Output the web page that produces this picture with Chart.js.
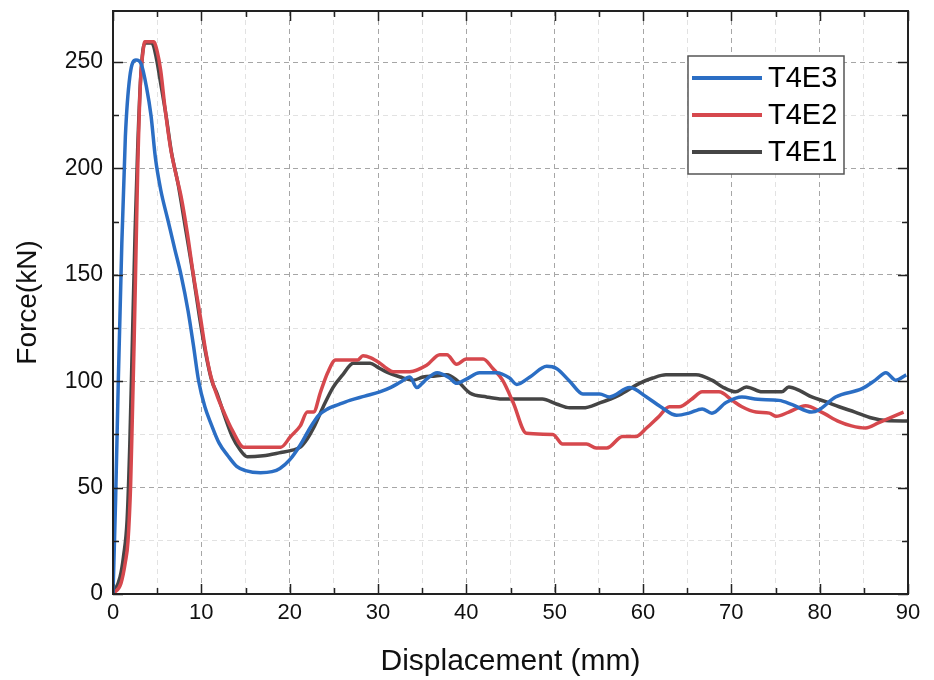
<!DOCTYPE html>
<html lang="en">
<head>
    <meta charset="UTF-8">
    <title>Force - Displacement</title>
    <script src="https://cdn.jsdelivr.net/npm/chart.js"></script>
    <style>
        html, body { margin: 0; padding: 0; background: #fff; }
        #wrap { width: 934px; height: 680px; }
    </style>
</head>
<body>
<div id="wrap"><canvas id="forceChart" width="934" height="680"></canvas></div>

<script>
// series names and colours (legend order)
const seriesNames = ['T4E3', 'T4E2', 'T4E1'];
const seriesColors = ['#2b6ec4', '#d6484d', '#454545'];

// T4E3 (blue) - displacement mm / force kN
const e3X = [0, 0.3, 0.6, 1.0, 1.4, 1.9, 2.6, 3.2, 3.8, 4.3, 4.8, 5.4, 6.2, 7.0, 7.7, 8.5, 9.1, 9.7, 10.4, 11.1,
    12.0, 13.0, 14.0, 15.0, 16.7, 18.0, 18.9, 20.0, 21.2, 22.3, 23.3, 24.3, 25.5, 26.8, 28.5, 30.2, 31.4, 32.5, 33.6, 34.4,
    35.0, 35.5, 36.7, 38.1, 38.9, 40.0, 41.5, 43.4, 44.9, 45.7, 47.2, 49.1, 50.2, 51.7, 53.2, 55.1, 56.2, 58.5, 60.4, 62.0,
    63.8, 65.2, 66.7, 67.8, 69.4, 71.2, 73.0, 75.4, 76.9, 79.1, 79.9, 81.8, 84.8, 86.3, 87.5, 88.6, 89.8];
const e3Y = [0, 45, 100, 165, 215, 243, 251, 249, 238, 225, 205, 190, 176, 162, 150, 133, 117, 100, 88, 80,
    71, 65, 60, 58, 57, 57.5, 59, 63, 70, 78, 84, 87, 89, 91, 93, 95, 97, 99.5, 102, 97,
    99, 101, 104, 101.5, 99, 101, 104, 104, 101.5, 98.5, 102, 107, 106, 100, 94, 94, 92.6, 97, 92.6, 88,
    84, 85, 87, 85, 90, 92.6, 91.5, 91, 89, 85.5, 86.5, 92.6, 96.5, 100.5, 104, 100.5, 103];

// T4E2 (red)
const e2X = [0, 0.9, 1.4, 1.7, 2.0, 2.2, 2.4, 2.6, 2.8, 3.1, 3.4, 3.6, 4.6, 5.0, 5.4, 5.9, 6.5, 7.2, 7.7, 8.4,
    9.1, 9.9, 10.5, 11.1, 11.8, 12.5, 13.5, 14.8, 16.5, 19.0, 20.1, 21.2, 22.0, 22.7, 23.5, 24.3, 25.2, 27.7, 28.3, 29.2,
    30.2, 31.0, 31.7, 33.6, 35.5, 37.0, 37.8, 38.9, 40.0, 41.9, 43.0, 44.1, 45.3, 46.8, 49.8, 50.9, 53.6, 54.7, 55.9, 57.7,
    59.2, 60.4, 61.7, 63.0, 64.1, 65.5, 66.7, 68.6, 70.1, 71.2, 72.8, 74.3, 75.1, 76.5, 78.4, 80.2, 82.2, 83.6, 85.2, 86.7,
    88.1, 89.5];
const e2Y = [0, 5, 15, 25, 52, 85, 120, 160, 200, 240, 255, 259.5, 259.5, 255, 246, 228, 210, 196, 187, 170,
    150, 130, 114, 102, 93, 86, 77, 69, 69, 69, 74, 79, 85.5, 85.5, 95, 104, 110, 110, 112, 111,
    108.5, 106, 104.5, 104.5, 107.5, 112.5, 112.5, 108, 110.5, 110.5, 106, 100.5, 90, 75.5, 75, 70.5, 70.5, 68.6, 68.6, 74,
    74, 78, 83, 88, 88, 91.5, 95, 95, 91, 88, 85.5, 85, 83.5, 85.5, 88.5, 85.5, 81, 79, 78, 80.5,
    83, 85.5];

// T4E1 (dark grey)
const e1X = [0, 0.8, 1.2, 1.6, 1.9, 2.2, 2.5, 2.8, 3.1, 3.4, 3.7, 4.4, 4.9, 5.4, 6.0, 6.6, 7.4, 8.2, 9.0, 9.8,
    10.5, 11.2, 11.8, 12.6, 13.5, 14.4, 15.2, 17.0, 19.0, 20.2, 21.2, 22.0, 22.7, 23.8, 24.9, 26.0, 27.2, 29.1, 30.0, 31.0,
    32.5, 34.0, 35.1, 36.5, 37.8, 38.9, 40.4, 42.3, 44.1, 48.6, 50.2, 51.7, 53.2, 55.1, 57.3, 59.6, 61.1, 62.6, 66.0, 67.8,
    69.0, 70.5, 71.7, 73.5, 75.7, 76.5, 77.8, 79.1, 80.6, 82.2, 84.0, 85.9, 87.5, 90];
const e1Y = [0, 8, 18, 35, 70, 120, 170, 210, 240, 256, 259, 259, 252, 240, 225, 208, 192, 172, 152, 130,
    113, 100, 94, 84, 74, 67.7, 64.5, 65, 66.5, 67.5, 69, 73, 78, 88, 97, 103, 108.5, 108.5, 106.5, 104.3,
    102, 100.5, 102, 102.5, 103, 100.5, 94.5, 92.6, 91.6, 91.6, 89.3, 87.5, 87.5, 89.8, 93.5, 99, 101.5, 103, 103, 100.5,
    97.3, 95, 97.3, 95, 95, 97.3, 95.5, 92.6, 90.5, 88, 85.5, 82.7, 81.5, 81.3];

const xTickStep = 5;
const yTickStep = 25;

function toPoints(xs, ys) {
    return xs.map((x, i) => ({x: x, y: ys[i]}));
}

const seriesData = [toPoints(e3X, e3Y), toPoints(e2X, e2Y), toPoints(e1X, e1Y)];

const fontFamily = "'Liberation Sans', Arial, sans-serif";

// frame + inward tick marks on all four sides
const frameTicks = {
    id: 'frameTicks',
    afterDatasetsDraw(chart) {
        const {ctx, chartArea: a, scales} = chart;
        ctx.save();
        ctx.strokeStyle = '#222';
        ctx.lineWidth = 1.5;
        ctx.setLineDash([]);
        ctx.beginPath();
        scales.x.ticks.forEach(t => {
            const px = Math.round(scales.x.getPixelForValue(t.value)) + 0.5;
            const len = t.value % 10 === 0 ? 10 : 6;
            ctx.moveTo(px, a.bottom); ctx.lineTo(px, a.bottom - len);
            ctx.moveTo(px, a.top); ctx.lineTo(px, a.top + len);
        });
        scales.y.ticks.forEach(t => {
            const py = Math.round(scales.y.getPixelForValue(t.value)) + 0.5;
            const len = t.value % 50 === 0 ? 10 : 6;
            ctx.moveTo(a.left, py); ctx.lineTo(a.left + len, py);
            ctx.moveTo(a.right, py); ctx.lineTo(a.right - len, py);
        });
        ctx.stroke();
        ctx.lineWidth = 2;
        ctx.strokeRect(a.left, a.top, a.right - a.left, a.bottom - a.top);
        ctx.restore();
    }
};

// boxed legend inside the plot, top right
const boxLegend = {
    id: 'boxLegend',
    afterDraw(chart) {
        const {ctx, chartArea: a} = chart;
        const bx = a.right - 220, by = a.top + 45, bw = 156, bh = 118;
        ctx.save();
        ctx.fillStyle = '#fff';
        ctx.fillRect(bx, by, bw, bh);
        ctx.strokeStyle = '#555';
        ctx.lineWidth = 1.5;
        ctx.strokeRect(bx, by, bw, bh);
        ctx.font = '29px ' + fontFamily;
        ctx.textBaseline = 'middle';
        ctx.textAlign = 'left';
        chart.data.datasets.forEach((ds, i) => {
            const y = by + 22 + i * 37;
            ctx.strokeStyle = ds.borderColor;
            ctx.lineWidth = 4;
            ctx.beginPath();
            ctx.moveTo(bx + 4, y);
            ctx.lineTo(bx + 74, y);
            ctx.stroke();
            ctx.fillStyle = '#000';
            ctx.fillText(ds.label, bx + 80, y + 1);
        });
        ctx.restore();
    }
};

new Chart(document.getElementById('forceChart'), {
    type: 'line',
    data: {
        datasets: seriesNames.map((name, i) => ({
            label: name,
            data: seriesData[i],
            borderColor: seriesColors[i],
            backgroundColor: seriesColors[i],
            borderWidth: 3.5,
            pointRadius: 0,
            cubicInterpolationMode: 'monotone',
            fill: false
        }))
    },
    options: {
        responsive: false,
        animation: false,
        layout: {padding: {left: 0, top: 11, right: 26, bottom: 0}},
        plugins: {
            legend: {display: false},
            tooltip: {enabled: false}
        },
        scales: {
            x: {
                type: 'linear',
                min: 0,
                max: 90,
                afterFit: s => { s.height = 86; s.paddingLeft = 0; s.paddingRight = 0; },
                ticks: {
                    stepSize: xTickStep,
                    autoSkip: false,
                    maxRotation: 0,
                    padding: 6,
                    color: '#111',
                    font: {family: fontFamily, size: 22},
                    callback: v => (v % 10 === 0 ? v : '')
                },
                grid: {
                    drawTicks: false,
                    lineWidth: 1,
                    color: c => (c.tick && c.tick.value % 10 === 0 ? '#a6a6a6' : '#e2e2e2')
                },
                border: {display: false, dash: [5, 4]},
                title: {
                    display: true,
                    text: 'Displacement (mm)',
                    color: '#111',
                    font: {family: fontFamily, size: 30},
                    padding: {top: 0, bottom: 0}
                }
            },
            y: {
                min: 0,
                max: 274,
                afterFit: s => { s.width = 113; s.paddingTop = 0; s.paddingBottom = 0; },
                ticks: {
                    stepSize: yTickStep,
                    includeBounds: false,
                    autoSkip: false,
                    padding: 10,
                    color: '#111',
                    font: {family: fontFamily, size: 23},
                    callback: v => (v % 50 === 0 ? v : '')
                },
                grid: {
                    drawTicks: false,
                    lineWidth: 1,
                    color: c => (c.tick && c.tick.value % 50 === 0 ? '#a6a6a6' : '#e2e2e2')
                },
                border: {display: false, dash: [5, 4]},
                title: {
                    display: true,
                    text: 'Force(kN)',
                    color: '#111',
                    font: {family: fontFamily, size: 28},
                    padding: {top: 11, bottom: 0}
                }
            }
        }
    },
    plugins: [frameTicks, boxLegend]
});
</script>
</body>
</html>
